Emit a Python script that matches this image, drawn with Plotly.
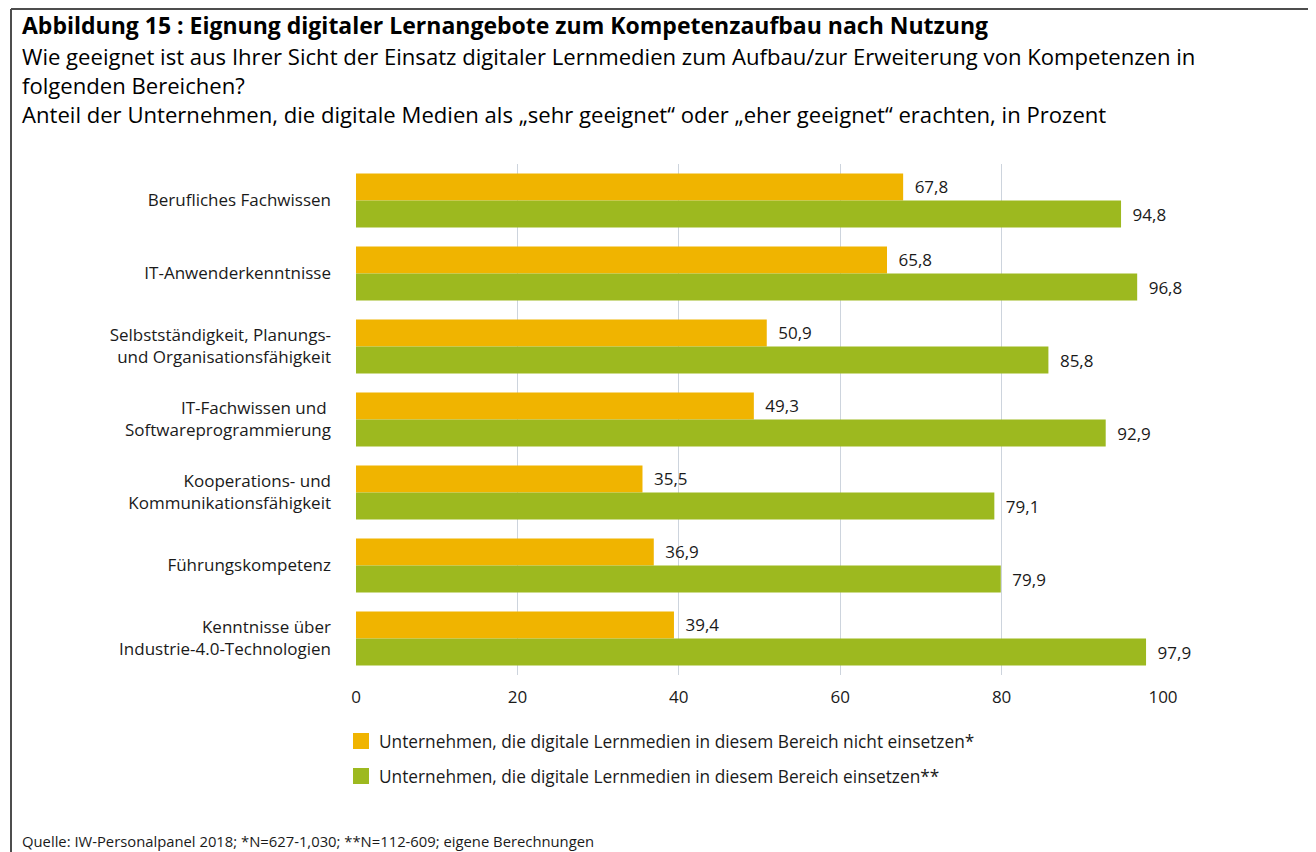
import plotly.graph_objects as go

categories = [
    "Berufliches Fachwissen",
    "IT-Anwenderkenntnisse",
    "Selbstständigkeit, Planungs-<br>und Organisationsfähigkeit",
    "IT-Fachwissen und <br>Softwareprogrammierung",
    "Kooperations- und<br>Kommunikationsfähigkeit",
    "Führungskompetenz",
    "Kenntnisse über<br>Industrie-4.0-Technologien",
]
nicht_einsetzen = [67.8, 65.8, 50.9, 49.3, 35.5, 36.9, 39.4]
einsetzen = [94.8, 96.8, 85.8, 92.9, 79.1, 79.9, 97.9]
series_names = [
    "Unternehmen, die digitale Lernmedien in diesem Bereich nicht einsetzen*",
    "Unternehmen, die digitale Lernmedien in diesem Bereich einsetzen**",
]
colors = ["#F0B400", "#9DB91F"]
x_ticks = [0, 20, 40, 60, 80, 100]

# page is rendered with an 8px body margin; figure coordinates = page - 8
OFF = 8
W, H = 1316 - OFF, 852 - OFF
L, R, T, B = 356 - OFF, 153, 164 - OFF, 177
FONT = "Open Sans"
TXT = "#1a1a1a"

fig = go.Figure()
for vals, name, col in zip([nicht_einsetzen, einsetzen], series_names, colors):
    fig.add_trace(go.Bar(
        y=categories, x=vals, name=name, orientation="h",
        marker=dict(color=col, line=dict(width=0)),
        text=vals, texttemplate="\u2002%{x:.1f}", textposition="outside",
        textfont=dict(family=FONT, size=17, color=TXT),
        cliponaxis=False, showlegend=False,
    ))

pw = W - L - R
ph = H - T - B


def px(x):
    return (x - OFF - L) / pw


def py(y):
    return 1 - (y - OFF - T) / ph


shapes = [
    dict(type="line", xref="paper", yref="paper", x0=px(11), x1=px(11), y0=py(9), y1=py(H + OFF + 5),
         line=dict(color="#4d4d4d", width=2)),
    dict(type="line", xref="paper", yref="paper", x0=px(11), x1=px(W + OFF + 5), y0=py(9), y1=py(9),
         line=dict(color="#4d4d4d", width=2)),
]
annotations = [
    dict(text="<b>Abbildung 15 : Eignung digitaler Lernangebote zum Kompetenzaufbau nach Nutzung</b>",
         x=px(20), y=py(25), xref="paper", yref="paper", xanchor="left", yanchor="middle",
         showarrow=False, font=dict(family=FONT, size=23, color="#000")),
    dict(text="Wie geeignet ist aus Ihrer Sicht der Einsatz digitaler Lernmedien zum Aufbau/zur Erweiterung von Kompetenzen in",
         x=px(20), y=py(56), xref="paper", yref="paper", xanchor="left", yanchor="middle",
         showarrow=False, font=dict(family=FONT, size=22.1, color="#000")),
    dict(text="folgenden Bereichen?",
         x=px(20), y=py(85), xref="paper", yref="paper", xanchor="left", yanchor="middle",
         showarrow=False, font=dict(family=FONT, size=22.1, color="#000")),
    dict(text="Anteil der Unternehmen, die digitale Medien als „sehr geeignet“ oder „eher geeignet“ erachten, in Prozent",
         x=px(20), y=py(114), xref="paper", yref="paper", xanchor="left", yanchor="middle",
         showarrow=False, font=dict(family=FONT, size=22.1, color="#000")),
    dict(text="Quelle: IW-Personalpanel 2018; *N=627-1,030; **N=112-609; eigene Berechnungen",
         x=px(20), y=py(841), xref="paper", yref="paper", xanchor="left", yanchor="middle",
         showarrow=False, font=dict(family=FONT, size=14.8, color=TXT)),
]
legend_y = [741, 776]
for yy, name, col in zip(legend_y, series_names, colors):
    shapes.append(dict(type="rect", xref="paper", yref="paper",
                       x0=px(353), x1=px(369), y0=py(yy - 8), y1=py(yy + 8),
                       fillcolor=col, line=dict(width=0)))
    annotations.append(dict(text=name, x=px(377), y=py(yy), xref="paper", yref="paper",
                            xanchor="left", yanchor="middle", showarrow=False,
                            font=dict(family=FONT, size=17.3, color=TXT)))

fig.update_layout(
    width=W, height=H,
    margin=dict(l=L, r=R, t=T, b=B, autoexpand=False),
    paper_bgcolor="white", plot_bgcolor="white",
    barmode="group", bargap=0.26, bargroupgap=0,
    separators=", ",
    font=dict(family=FONT, color=TXT),
    shapes=shapes, annotations=annotations,
    xaxis=dict(range=[0, 100], tickvals=x_ticks, showgrid=True, gridcolor="#cdd4dd", gridwidth=1,
               zeroline=False, showline=False, ticks="", tickfont=dict(family=FONT, size=17, color=TXT),
               ticklabelstandoff=10),
    yaxis=dict(autorange="reversed", showgrid=False, showline=False, ticks="",
               tickfont=dict(family=FONT, size=17, color=TXT), ticklabelstandoff=24),
)

fig.write_html("out.html")
